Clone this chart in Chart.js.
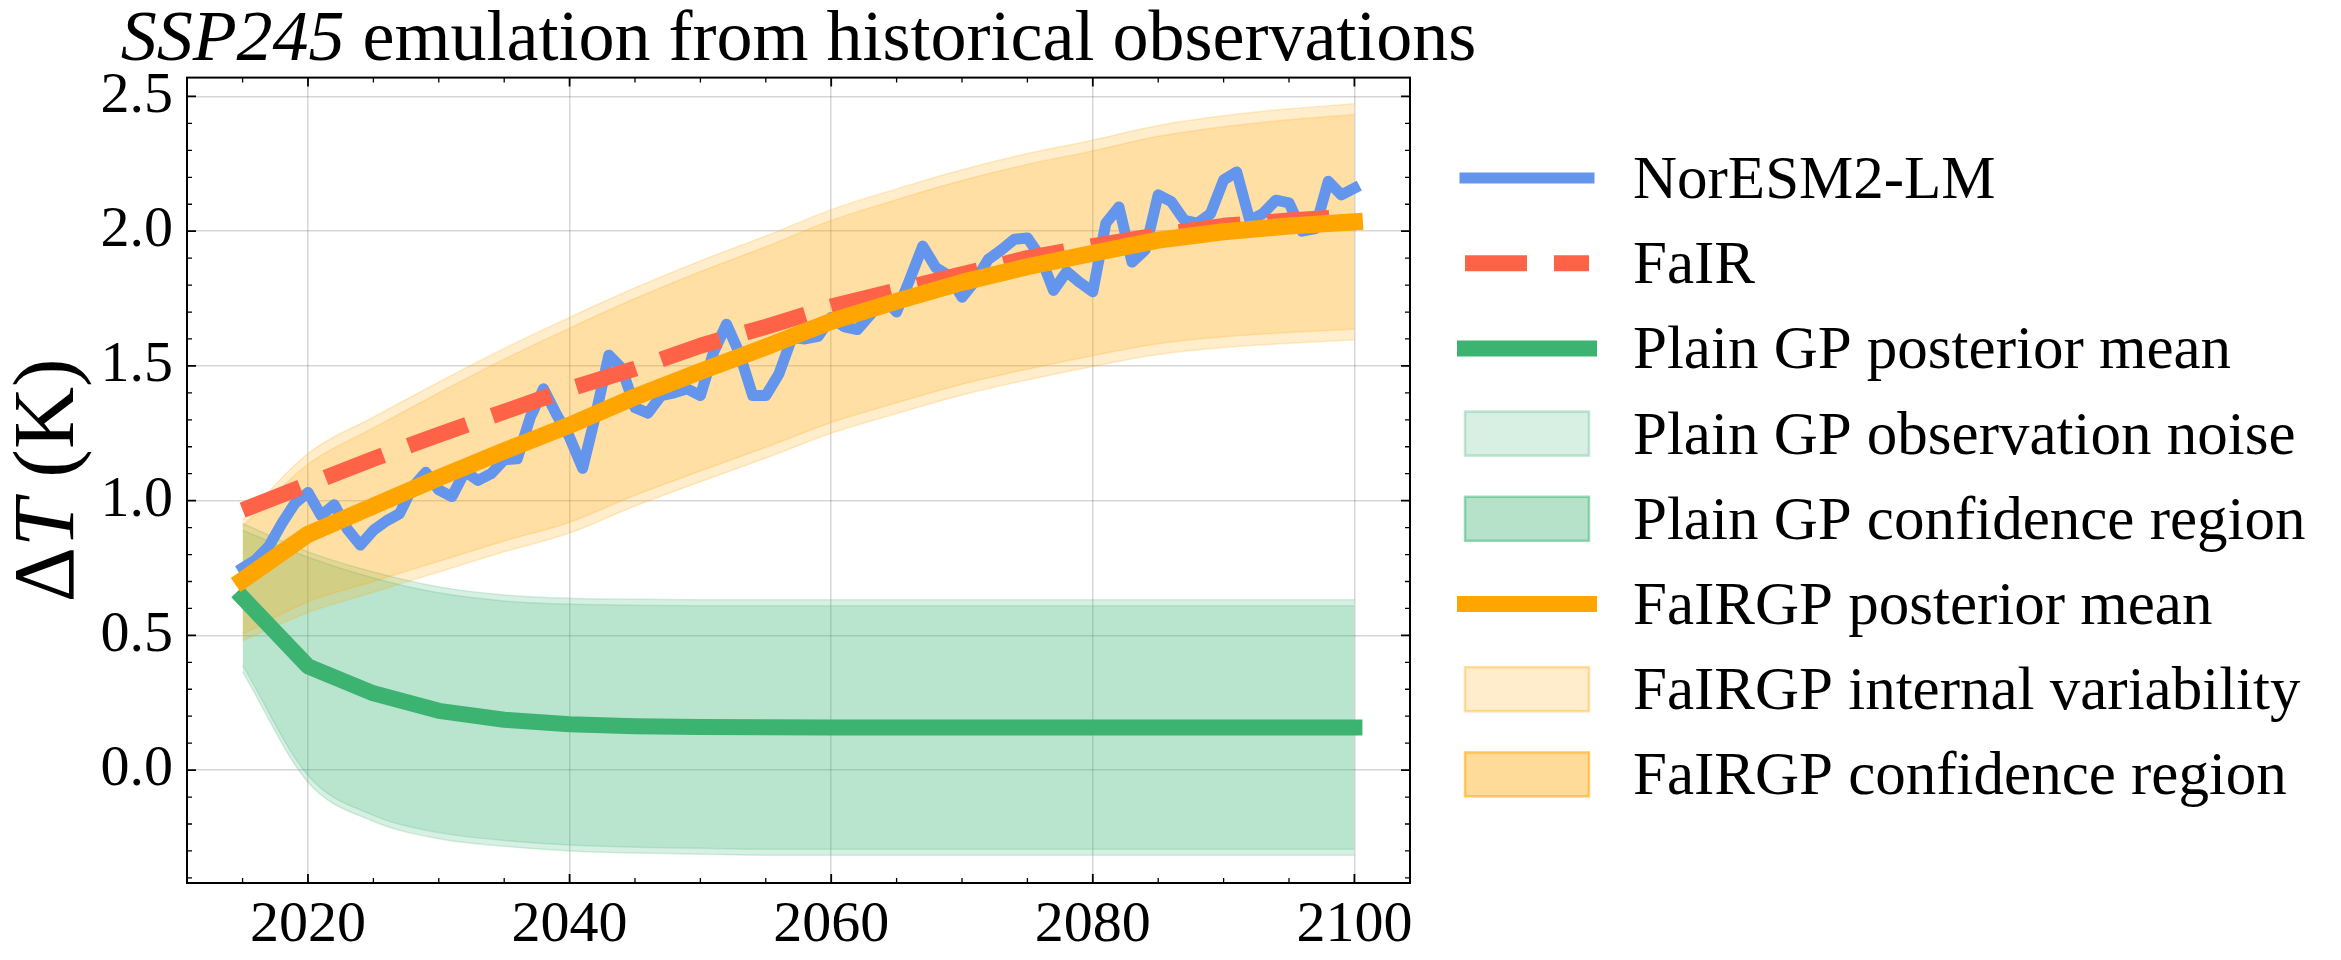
<!DOCTYPE html>
<html>
<head>
<meta charset="utf-8">
<title>SSP245 emulation</title>
<script src="https://cdn.jsdelivr.net/npm/chart.js@4.4.1/dist/chart.umd.min.js"></script>
<style>
  html, body { margin: 0; padding: 0; background: #fff; }
  #wrap { width: 2341px; height: 960px; }
</style>
</head>
<body>
<div id="wrap"><canvas id="chart" width="2341" height="960"></canvas></div>
<script>
// ----------------------------------------
// DATA
// ----------------------------------------
const years = [
  2015, 2016, 2017, 2018, 2019, 2020, 2021, 2022, 2023, 2024,
  2025, 2026, 2027, 2028, 2029, 2030, 2031, 2032, 2033, 2034,
  2035, 2036, 2037, 2038, 2039, 2040, 2041, 2042, 2043, 2044,
  2045, 2046, 2047, 2048, 2049, 2050, 2051, 2052, 2053, 2054,
  2055, 2056, 2057, 2058, 2059, 2060, 2061, 2062, 2063, 2064,
  2065, 2066, 2067, 2068, 2069, 2070, 2071, 2072, 2073, 2074,
  2075, 2076, 2077, 2078, 2079, 2080, 2081, 2082, 2083, 2084,
  2085, 2086, 2087, 2088, 2089, 2090, 2091, 2092, 2093, 2094,
  2095, 2096, 2097, 2098, 2099, 2100
];

const noresm = [
  0.75, 0.78, 0.83, 0.915, 0.99, 1.03, 0.945, 0.985, 0.895, 0.835,
  0.89, 0.925, 0.952, 1.05, 1.105, 1.04, 1.015, 1.108, 1.075, 1.10,
  1.152, 1.155, 1.31, 1.415, 1.32, 1.235, 1.12, 1.32, 1.54, 1.49,
  1.345, 1.325, 1.39, 1.40, 1.415, 1.39, 1.55, 1.655, 1.545, 1.39,
  1.39, 1.47, 1.605, 1.60, 1.61, 1.68, 1.645, 1.635, 1.69, 1.755,
  1.70, 1.82, 1.945, 1.865, 1.835, 1.755, 1.815, 1.895, 1.93, 1.97,
  1.975, 1.905, 1.78, 1.85, 1.81, 1.775, 2.03, 2.09, 1.885, 1.93,
  2.135, 2.11, 2.04, 2.03, 2.065, 2.19, 2.22, 2.04, 2.065, 2.115,
  2.105, 2.0, 2.01, 2.185, 2.135, 2.16
];

// emulator outputs, every 5 years
const years5 = [2015, 2020, 2025, 2030, 2035, 2040, 2045, 2050, 2055,
                2060, 2065, 2070, 2075, 2080, 2085, 2090, 2095, 2100];

const fair = [0.965, 1.06, 1.155, 1.245, 1.33, 1.415, 1.49, 1.575, 1.645,
              1.72, 1.78, 1.84, 1.90, 1.945, 1.985, 2.02, 2.04, 2.055];

const plainMean = [0.64, 0.385, 0.285, 0.22, 0.187, 0.17, 0.163, 0.16, 0.159,
                   0.158, 0.158, 0.158, 0.158, 0.158, 0.158, 0.158, 0.158, 0.158];
const plainNoiseUp = [0.915, 0.81, 0.735, 0.68, 0.65, 0.638, 0.634, 0.632, 0.632,
                      0.632, 0.632, 0.632, 0.632, 0.632, 0.632, 0.632, 0.632, 0.632];
const plainNoiseLo = [0.365, -0.045, -0.19, -0.255, -0.283, -0.3, -0.308, -0.312, -0.316,
                      -0.316, -0.316, -0.316, -0.316, -0.316, -0.316, -0.316, -0.316, -0.316];
const plainConfUp = [0.89, 0.79, 0.713, 0.658, 0.628, 0.616, 0.612, 0.61, 0.61,
                     0.61, 0.61, 0.61, 0.61, 0.61, 0.61, 0.61, 0.61, 0.61];
const plainConfLo = [0.39, -0.02, -0.168, -0.232, -0.261, -0.278, -0.286, -0.29, -0.294,
                     -0.294, -0.294, -0.294, -0.294, -0.294, -0.294, -0.294, -0.294, -0.294];

const fairgpMean = [0.705, 0.875, 0.98, 1.085, 1.185, 1.28, 1.385, 1.48, 1.57,
                    1.665, 1.74, 1.81, 1.868, 1.918, 1.967, 1.998, 2.019, 2.035];
const fairgpVarUp = [0.93, 1.175, 1.31, 1.44, 1.565, 1.68, 1.79, 1.89, 1.982,
                     2.08, 2.157, 2.228, 2.288, 2.338, 2.392, 2.428, 2.454, 2.473];
const fairgpVarLo = [0.48, 0.585, 0.66, 0.735, 0.81, 0.88, 0.98, 1.07, 1.158,
                     1.25, 1.323, 1.392, 1.448, 1.498, 1.542, 1.568, 1.584, 1.597];
const fairgpConfUp = [0.905, 1.135, 1.27, 1.40, 1.525, 1.64, 1.75, 1.85, 1.942,
                      2.04, 2.117, 2.188, 2.248, 2.298, 2.352, 2.388, 2.414, 2.433];
const fairgpConfLo = [0.505, 0.625, 0.70, 0.775, 0.85, 0.92, 1.02, 1.11, 1.198,
                      1.29, 1.363, 1.432, 1.488, 1.538, 1.582, 1.608, 1.624, 1.637];

// ticks
const xTicks = [2020, 2040, 2060, 2080, 2100];
const xMinorTicks = [2015, 2025, 2030, 2035, 2045, 2050, 2055, 2065, 2070, 2075, 2085, 2090, 2095];
const yTicks = [0.0, 0.5, 1.0, 1.5, 2.0, 2.5];
const yMinorTicks = [-0.4, -0.3, -0.2, -0.1, 0.1, 0.2, 0.3, 0.4, 0.6, 0.7, 0.8, 0.9,
                     1.1, 1.2, 1.3, 1.4, 1.6, 1.7, 1.8, 1.9, 2.1, 2.2, 2.3, 2.4];

const legendLabels = [
  'NorESM2-LM',
  'FaIR',
  'Plain GP posterior mean',
  'Plain GP observation noise',
  'Plain GP confidence region',
  'FaIRGP posterior mean',
  'FaIRGP internal variability',
  'FaIRGP confidence region'
];

// ----------------------------------------
// STYLE
// ----------------------------------------
const BLUE = '#6495ED';
const RED = '#FF6347';
const GREEN = '#3CB371';
const ORANGE = '#FFA500';
const greenA = a => `rgba(60, 179, 113, ${a})`;
const orangeA = a => `rgba(255, 165, 0, ${a})`;
const SERIF = '"Liberation Serif", "DejaVu Serif", serif';

function pts(xs, ys) {
  return xs.map((x, i) => ({ x: x, y: ys[i] }));
}

function lineSet(label, xs, ys, color, width, extra) {
  return Object.assign({
    label: label,
    data: pts(xs, ys),
    borderColor: color,
    borderWidth: width,
    pointRadius: 0,
    tension: 0,
    fill: false,
    borderCapStyle: 'square',
    borderJoinStyle: 'round'
  }, extra || {});
}

function bandEdge(xs, ys, edge, fillColor) {
  return {
    label: '',
    data: pts(xs, ys),
    borderColor: edge,
    borderWidth: 1.5,
    pointRadius: 0,
    cubicInterpolationMode: 'monotone',
    backgroundColor: fillColor || 'transparent',
    fill: fillColor ? '-1' : false
  };
}

// lines first (drawn on top), bands after (drawn below)
const datasets = [
  lineSet(legendLabels[5], years5, fairgpMean, ORANGE, 17),
  lineSet(legendLabels[2], years5, plainMean, GREEN, 16),
  lineSet(legendLabels[1], years5, fair, RED, 16, { borderDash: [62, 27], borderCapStyle: 'butt' }),
  lineSet(legendLabels[0], years, noresm, BLUE, 11),
  bandEdge(years5, fairgpConfLo, orangeA(0.2)),
  bandEdge(years5, fairgpConfUp, orangeA(0.2), orangeA(0.2)),
  bandEdge(years5, fairgpVarLo, orangeA(0.2)),
  bandEdge(years5, fairgpVarUp, orangeA(0.2), orangeA(0.2)),
  bandEdge(years5, plainConfLo, greenA(0.2)),
  bandEdge(years5, plainConfUp, greenA(0.2), greenA(0.2)),
  bandEdge(years5, plainNoiseLo, greenA(0.2)),
  bandEdge(years5, plainNoiseUp, greenA(0.2), greenA(0.2))
];

const legendHandles = [
  { kind: 'line', color: BLUE, width: 11 },
  { kind: 'line', color: RED, width: 16, dash: [62, 27] },
  { kind: 'line', color: GREEN, width: 16 },
  { kind: 'box', fill: greenA(0.2), edge: greenA(0.3) },
  { kind: 'box', fill: greenA(0.38), edge: greenA(0.5) },
  { kind: 'line', color: ORANGE, width: 16 },
  { kind: 'box', fill: orangeA(0.2), edge: orangeA(0.35) },
  { kind: 'box', fill: orangeA(0.4), edge: orangeA(0.55) }
];

// ----------------------------------------
// DECORATION PLUGIN (frame, inward ticks, title, y label, legend)
// ----------------------------------------
const decorPlugin = {
  id: 'decor',
  afterDraw(chart) {
    const ctx = chart.ctx;
    const a = chart.chartArea;
    const xs = chart.scales.x;
    const ys = chart.scales.y;

    ctx.save();
    // inward ticks on all four sides
    ctx.strokeStyle = '#000';
    const tick = (vals, len, lw) => {
      ctx.lineWidth = lw;
      vals.forEach(v => {
        const px = xs.getPixelForValue(v);
        ctx.beginPath();
        ctx.moveTo(px, a.bottom); ctx.lineTo(px, a.bottom - len);
        ctx.moveTo(px, a.top); ctx.lineTo(px, a.top + len);
        ctx.stroke();
      });
    };
    const ytick = (vals, len, lw) => {
      ctx.lineWidth = lw;
      vals.forEach(v => {
        const py = ys.getPixelForValue(v);
        ctx.beginPath();
        ctx.moveTo(a.left, py); ctx.lineTo(a.left + len, py);
        ctx.moveTo(a.right, py); ctx.lineTo(a.right - len, py);
        ctx.stroke();
      });
    };
    tick(xTicks, 9, 1.8);
    tick(xMinorTicks, 5, 1.3);
    ytick(yTicks, 9, 1.8);
    ytick(yMinorTicks, 5, 1.3);

    // frame
    ctx.lineWidth = 2;
    ctx.strokeRect(a.left, a.top, a.right - a.left, a.bottom - a.top);

    // title
    ctx.fillStyle = '#000';
    ctx.textBaseline = 'alphabetic';
    const tSize = 72;
    const part1 = 'SSP245';
    const part2 = ' emulation from historical observations';
    ctx.font = `italic ${tSize}px ${SERIF}`;
    const w1 = ctx.measureText(part1).width;
    ctx.font = `${tSize}px ${SERIF}`;
    const w2 = ctx.measureText(part2).width;
    let tx = (a.left + a.right) / 2 - (w1 + w2) / 2;
    ctx.textAlign = 'left';
    ctx.font = `italic ${tSize}px ${SERIF}`;
    ctx.fillText(part1, tx, 60);
    ctx.font = `${tSize}px ${SERIF}`;
    ctx.fillText(part2, tx + w1, 60);

    // y axis label
    const lSize = 86;
    ctx.save();
    ctx.translate(50, (a.top + a.bottom) / 2);
    ctx.rotate(-Math.PI / 2);
    ctx.textBaseline = 'middle';
    const segs = [['Δ', ''], ['T', 'italic '], [' (K)', '']];
    let total = 0;
    segs.forEach(s => { ctx.font = `${s[1]}${lSize}px ${SERIF}`; total += ctx.measureText(s[0]).width; });
    let lx = -total / 2;
    segs.forEach(s => {
      ctx.font = `${s[1]}${lSize}px ${SERIF}`;
      ctx.fillText(s[0], lx, 0);
      lx += ctx.measureText(s[0]).width;
    });
    ctx.restore();

    // legend
    const rowY0 = 178, rowStep = 85.2;
    const hx0 = 1465, hx1 = 1589, textX = 1633;
    ctx.font = `61px ${SERIF}`;
    ctx.textAlign = 'left';
    ctx.textBaseline = 'alphabetic';
    legendHandles.forEach((h, i) => {
      const y = rowY0 + i * rowStep;
      if (h.kind === 'line') {
        ctx.save();
        ctx.strokeStyle = h.color;
        ctx.lineWidth = h.width;
        ctx.lineCap = h.dash ? 'butt' : 'square';
        ctx.setLineDash(h.dash || []);
        ctx.beginPath();
        ctx.moveTo(hx0, y);
        ctx.lineTo(hx1, y);
        ctx.stroke();
        ctx.restore();
      } else {
        ctx.fillStyle = h.fill;
        ctx.fillRect(hx0, y - 22, hx1 - hx0, 44);
        ctx.strokeStyle = h.edge;
        ctx.lineWidth = 2.5;
        ctx.strokeRect(hx0, y - 22, hx1 - hx0, 44);
      }
      ctx.fillStyle = '#000';
      ctx.fillText(legendLabels[i], textX, y + 20);
    });
    ctx.restore();
  }
};

// ----------------------------------------
// CHART
// ----------------------------------------
const chart = new Chart(document.getElementById('chart').getContext('2d'), {
  type: 'line',
  data: { datasets: datasets },
  options: {
    responsive: false,
    devicePixelRatio: 1,
    animation: false,
    events: [],
    layout: { padding: { left: 0, top: 77.6, right: 931, bottom: 0 } },
    plugins: {
      legend: { display: false },
      tooltip: { enabled: false },
      title: { display: false },
      filler: { drawTime: 'beforeDatasetsDraw', propagate: false }
    },
    scales: {
      x: {
        type: 'linear',
        min: 2010.75,
        max: 2104.25,
        afterBuildTicks: s => { s.ticks = xTicks.map(v => ({ value: v })); },
        afterFit: s => { s.height = 77; },
        grid: { color: 'rgba(0,0,0,0.16)', lineWidth: 1.5, drawTicks: false },
        border: { display: false },
        ticks: {
          font: { family: SERIF, size: 58 },
          color: '#000',
          padding: 8,
          maxRotation: 0,
          callback: v => String(v)
        }
      },
      y: {
        type: 'linear',
        min: -0.419,
        max: 2.570,
        afterBuildTicks: s => { s.ticks = yTicks.map(v => ({ value: v })); },
        afterFit: s => { s.width = 187; },
        grid: { color: 'rgba(0,0,0,0.16)', lineWidth: 1.5, drawTicks: false },
        border: { display: false },
        ticks: {
          font: { family: SERIF, size: 58 },
          color: '#000',
          padding: 14,
          callback: v => v.toFixed(1)
        }
      }
    }
  },
  plugins: [decorPlugin]
});
</script>
</body>
</html>
